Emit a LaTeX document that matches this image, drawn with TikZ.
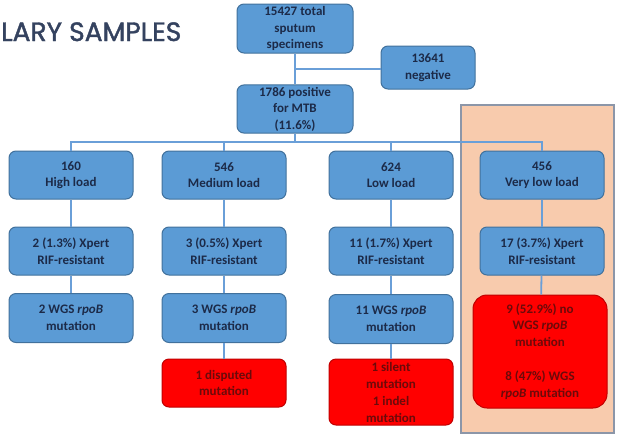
\documentclass[tikz,border=0pt]{standalone}
\usepackage{fontspec}
\setmainfont{Carlito}
\newfontfamily\titlefont{Poppins}[FakeBold=1.6]
\definecolor{boxblue}{HTML}{5B9BD5}
\definecolor{edgeblue}{HTML}{41719C}
\definecolor{lineblue}{HTML}{6A9FD8}
\definecolor{boxred}{HTML}{FF0000}
\definecolor{edgered}{HTML}{C00000}
\definecolor{peach}{HTML}{F8CBAD}
\definecolor{framegray}{HTML}{8C96A8}
\definecolor{navy}{HTML}{34425F}
\definecolor{inkblue}{HTML}{1C2A48}
\definecolor{inkred}{HTML}{6B0A0A}
\begin{document}
\begin{tikzpicture}[x=1pt,y=-1pt,
    blbox/.style={draw=edgeblue,fill=boxblue,line width=1pt,rounded corners=7pt,
      minimum width=124pt,minimum height=48pt,align=center,inner sep=2pt,
      font=\bfseries\fontsize{13}{16.5}\selectfont,text=inkblue},
    redbox/.style={blbox,draw=edgered,fill=boxred,text=inkred},
    link/.style={draw=lineblue,line width=1.8pt}]
    \useasboundingbox (0,0) rectangle (620,439);
    \node[anchor=base west,inner sep=0pt,text=navy,font=\titlefont\fontsize{26.5}{26.5}\selectfont](title)at(1,41){LARY SAMPLES};
    % highlighted very low load column
    \draw[draw=framegray,fill=peach,line width=1.2pt](461,105)rectangle(614,433);
    \node[blbox,minimum width=116pt,minimum height=49pt](top)at(295,28.5){15427 total\\sputum\\specimens};
    \node[blbox,minimum width=94pt,minimum height=43pt](neg)at(428,67.5){13641\\negative};
    \node[blbox,minimum width=116pt](pos)at(295,109){1786 positive\\for MTB\\(11.6\%)};
    \node[blbox](hi)at(71,175){160\\High load};
    \node[blbox](med)at(224,175){546\\Medium load};
    \node[blbox](lo)at(391,175){624\\Low load};
    \node[blbox](vlo)at(542,175){456\\Very low load};
    \node[blbox](hirif)at(71,251){2 (1.3\%) Xpert\\RIF-resistant};
    \node[blbox](medrif)at(224,251){3 (0.5\%) Xpert\\RIF-resistant};
    \node[blbox](lorif)at(391,251){11 (1.7\%) Xpert\\RIF-resistant};
    \node[blbox](vlorif)at(542,251){17 (3.7\%) Xpert\\RIF-resistant};
    \node[blbox,minimum height=49pt](hiwgs)at(71,318){2 WGS \textit{rpoB}\\mutation};
    \node[blbox,minimum height=49pt](medwgs)at(224,318){3 WGS \textit{rpoB}\\mutation};
    \node[blbox,minimum height=49pt](lowgs)at(391,319){11 WGS \textit{rpoB}\\mutation};
    \node[redbox](meddis)at(224,383){1 disputed\\mutation};
    \node[redbox,minimum height=66pt,font=\bfseries\fontsize{13}{17}\selectfont](losil)at(391,392){1 silent\\mutation\\1 indel\\mutation};
    \node[redbox,rounded corners=14pt,minimum width=134pt,minimum height=113pt](vlowgs)at(540,351.5){9 (52.9\%) no\\WGS \textit{rpoB}\\mutation\\[18pt]8 (47\%) WGS\\\textit{rpoB} mutation};
    \coordinate(fork)at(295,69);
    \coordinate(bus)at(295,142);
    \draw[link](top)--(pos);
    \draw[link](fork)--(fork-|neg.west);
    \draw[link](pos)--(bus);
    \foreach \c in{hi,med,lo,vlo}
    \draw[link](bus)-|(\c);
    \foreach \a/\b in{hi/hirif,hirif/hiwgs,med/medrif,medrif/medwgs,medwgs/meddis,
      lo/lorif,lorif/lowgs,lowgs/losil,vlo/vlorif,vlorif/vlowgs}
    \draw[link](\a)--(\b);
\end{tikzpicture}
\end{document}
